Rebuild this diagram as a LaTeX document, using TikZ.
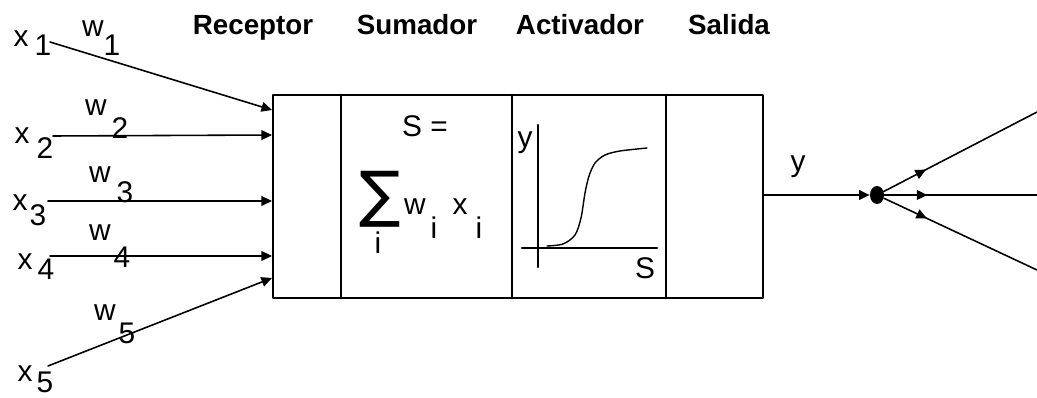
\documentclass[tikz,border=0pt]{standalone}
\usepackage{fontspec}
\setmainfont{Liberation Sans}
\newfontfamily\symfont{DejaVu Sans}
\usetikzlibrary{arrows.meta,decorations.markings,shapes.geometric}
\tikzset{
	lbl/.style={inner sep=0pt, font=\fontsize{17}{20}\selectfont},
	hdr/.style={inner sep=0pt, anchor=base, font=\fontsize{15.8}{19}\selectfont\bfseries},
	wire/.style={line width=0.9pt, -{Triangle[length=6pt,width=5.5pt]}},
	frame/.style={line width=1.6pt},
}
\begin{document}
\begin{tikzpicture}[x=0.02cm, y=-0.02cm, line join=round, line cap=round]
	\useasboundingbox (0,0) rectangle (1037,398);
	% caja de la neurona
	\coordinate (A) at (273,95);
	\coordinate (B) at (763,95);
	\coordinate (C) at (763,298);
	\coordinate (D) at (273,298);
	\draw[frame] (A)--(B)--(C)--(D)--cycle;
	\foreach \x in {341,512,666} \draw[frame] (\x,95)--(\x,298);
	
	\foreach \t/\x in {Receptor/253,Sumador/417,Activador/580,Salida/729} \node[hdr] (h-\t) at (\x,35) {\t};
	
	% entradas
	\foreach \n/\sx/\sy/\ey in {1/50/42/110, 2/53/136/135, 3/48/201/201, 4/50/256/256, 5/48/366/278}{
		\coordinate (s\n) at (\sx,\sy);
		\coordinate (e\n) at (272,\ey);
		\draw[wire] (s\n)--(e\n);
	}
	\foreach \n/\a/\b/\c/\d in {1/21/39/43/45, 2/22/136/45/148, 3/20/203/38/215, 4/25/262/46/269, 5/25/374/45/382}{
		\node[lbl] (x\n) at (\a,\b) {x};
		\node[lbl] (xi\n) at (\c,\d) {\n};
	}
	\foreach \n/\a/\b/\c/\d in {1/93/29/112/45, 2/96/108/120/128, 3/100/175/125/192, 4/100/233/122/257, 5/105/313/127/333}{
		\node[lbl] (w\n) at (\a,\b) {w};
		\node[lbl] (wi\n) at (\c,\d) {\n};
	}
	
	% sumador
	\node[lbl] (S) at (425,126) {S =};
	\node[inner sep=0pt, font=\symfont\fontsize{35}{40}\selectfont] (sum) at (380,199) {∑};
	\node[lbl] (sumi) at (378,243) {i};
	\node[lbl] (sw) at (415,207) {w};
	\node[lbl] (swi) at (434,228) {i};
	\node[lbl] (sx) at (460,207) {x};
	\node[lbl] (sxi) at (479,228) {i};
	
	% activador
	\draw[line width=1.5pt] (538,125)--(538,267);
	\draw[line width=1.5pt] (522,248)--(657,248);
	\node[lbl] (ay) at (525,143) {y};
	\node[lbl] (aS) at (645,268) {S};
	\draw[line width=0.8pt] plot[smooth] coordinates {(547,246) (563,244) (575,235) (581,218) (585,193) (589,176) (595,163) (605,155) (620,151) (647,148)};
	
	% salida
	\node[ellipse, fill, inner sep=0pt, minimum width=0.28cm, minimum height=0.36cm] (dot) at (877,195) {};
	\coordinate (out) at (763,195);
	\draw[wire] (out)--(dot);
	\node[lbl] (oy) at (798,167) {y};
	\foreach \n/\yy/\p in {1/112/0.95cm, 2/195/0.86cm, 3/270/0.95cm}{
		\coordinate (o\n) at (1037,\yy);
		\draw[line width=0.9pt, postaction={decorate}, decoration={markings, mark=at position \p with {\arrow{Triangle[length=6pt,width=5.5pt]}}}] (dot)--(o\n);
	}
\end{tikzpicture}
\end{document}
